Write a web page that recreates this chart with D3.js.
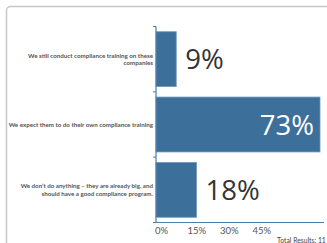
<!DOCTYPE html>
<html>
<head>
<meta charset="utf-8">
<script src="https://cdn.jsdelivr.net/npm/d3@7"></script>
<style>
  body { margin: 0; background: #fff; overflow: hidden; }
  svg { display: block; }
</style>
</head>
<body>
<div id="chart"></div>
<script>
// answers and share of respondents (%)
var categories = [
  ["We still conduct compliance training on these", "companies"],
  ["We expect them to do their own compliance training"],
  ["We don\u2019t do anything \u2013 they are already big, and", "should have a good compliance program."]
]
var values = [9, 73, 18]
var tickVals = [0, 15, 30, 45]
var totalLabel = "Total Results: 11"

var width = 327
var height = 243

var svg = d3.select("#chart").append("svg").attr("width", width).attr("height", height)

// card frame
svg.append("rect")
  .attr("x", 6.5).attr("y", 6.5)
  .attr("width", 330).attr("height", 260)
  .attr("rx", 4)
  .attr("fill", "#fff")
  .attr("stroke", "#c8c8cc")
  .attr("stroke-width", 1.5)

var x = d3.scaleLinear().domain([0, 73]).range([156, 320])
var y = d3.scaleBand().domain(d3.range(values.length)).range([26.5, 222.5])
  .paddingInner(0.16).paddingOuter(0.08)

var axisColor = "#4a7eab"

// bars
svg.selectAll(".bar")
  .data(values)
  .enter().append("rect")
  .attr("class", "bar")
  .attr("x", x(0))
  .attr("y", function(d, i) { return y(i) })
  .attr("width", function(d) { return x(d) - x(0) })
  .attr("height", y.bandwidth())
  .attr("fill", "#3c6f9a")
  .attr("stroke", "#6f97bb")
  .attr("stroke-width", 0.8)

// y axis (line plus small ticks at band edges)
svg.append("line")
  .attr("x1", x(0)).attr("x2", x(0))
  .attr("y1", 26.5).attr("y2", 222.5)
  .attr("stroke", axisColor).attr("stroke-width", 1.2)

var edges = [y(0) - y.step() * y.paddingInner() / 2]
values.forEach(function(d, i) { edges.push(y(i) + y.bandwidth() + y.step() * y.paddingInner() / 2) })
svg.selectAll(".ytick")
  .data(edges)
  .enter().append("line")
  .attr("class", "ytick")
  .attr("x1", x(0) - 3).attr("x2", x(0))
  .attr("y1", function(d) { return d }).attr("y2", function(d) { return d })
  .attr("stroke", axisColor).attr("stroke-width", 1)

// x axis
svg.append("line")
  .attr("x1", x(0)).attr("x2", 324)
  .attr("y1", 222.5).attr("y2", 222.5)
  .attr("stroke", axisColor).attr("stroke-width", 1.2)

svg.selectAll(".xlab")
  .data(tickVals)
  .enter().append("text")
  .attr("class", "xlab")
  .attr("x", function(d) { return x(d) - 1 - (d / 15) * 1.2 })
  .attr("y", 234)
  .text(function(d) { return d + "%" })
  .attr("font-family", "Lato, sans-serif")
  .attr("font-size", "9.5px")
  .attr("fill", "#555")

// category labels, right aligned next to the axis
var labels = svg.selectAll(".labels")
  .data(categories)
  .enter().append("text")
  .attr("class", "labels")
  .attr("text-anchor", "end")
  .attr("font-family", "Lato, sans-serif")
  .attr("font-size", "6.2px")
  .attr("font-weight", "bold")
  .attr("fill", "#555")

labels.each(function(lines, i) {
  var cy = y(i) + y.bandwidth() / 2
  var top = cy - (lines.length - 1) * 7.4 / 2 + 2.2
  d3.select(this).selectAll("tspan")
    .data(lines)
    .enter().append("tspan")
    .attr("x", 153)
    .attr("y", function(d, j) { return top + j * 7.4 })
    .text(function(d) { return d })
})

// value labels
svg.selectAll(".countText")
  .data(values)
  .enter().append("text")
  .attr("class", "countText")
  .attr("x", function(d) { return d > 50 ? x(d) - 6 : x(d) + 9 })
  .attr("y", function(d, i) { return y(i) + y.bandwidth() / 2 + 10 })
  .attr("text-anchor", function(d) { return d > 50 ? "end" : "start" })
  .text(function(d) { return d + "%" })
  .attr("font-family", "'Open Sans', sans-serif")
  .attr("font-size", "27.5px")
  .attr("fill", function(d) { return d > 50 ? "#fff" : "#333" })

svg.append("text")
  .attr("x", 277).attr("y", 243)
  .text(totalLabel)
  .attr("font-family", "Lato, sans-serif")
  .attr("font-size", "6.8px")
  .attr("fill", "#444")
</script>
</body>
</html>
